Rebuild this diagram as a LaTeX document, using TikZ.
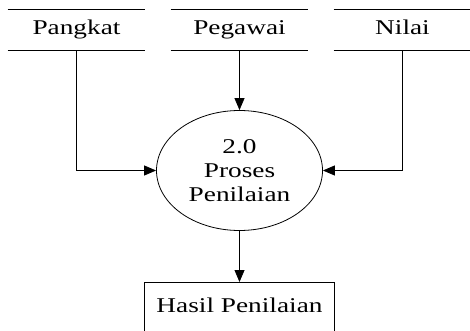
\documentclass[tikz,border=0pt]{standalone}
\usepackage{fontspec}
\setmainfont[FakeStretch=1.3]{Liberation Serif}
\usetikzlibrary{shapes.geometric,arrows.meta}

\tikzset{
  store/.style={minimum width=137pt, minimum height=40pt, inner sep=0pt, text height=14pt, text depth=4pt},
  proc/.style={draw, ellipse, minimum width=166pt, minimum height=120pt, inner sep=0pt, align=center},
  entity/.style={draw, minimum width=190pt, inner xsep=0pt, inner ysep=15pt, text height=15pt, text depth=30pt},
  arr/.style={-{Triangle[length=12pt,width=10pt]}}
}

\begin{document}
\begin{tikzpicture}[x=1pt, y=-1pt, line width=0.8pt, font=\fontsize{21}{24}\selectfont]
				% bounding box
				\useasboundingbox (0,0) rectangle (470,331);
				
				% data stores
				\node[store] (pangkat) at (76.5, 30) {Pangkat};
				\node[store] (pegawai) at (239.5, 30) {Pegawai};
				\node[store] (nilai)   at (402.5, 30) {Nilai};
				\foreach \s in {pangkat, pegawai, nilai}{
					\draw (\s.north west) -- (\s.north east);
					\draw (\s.south west) -- (\s.south east);
				}
				
				% proses en hasil
				\node[proc] (proses) at (239.5, 170.5) {2.0\\Proses\\Penilaian};
				\node[entity, anchor=north] (hasil) at (239.5, 282) {Hasil Penilaian};
				
				% pijlen
				\draw[arr] (pangkat.south) |- (proses.west);
				\draw[arr] (pegawai.south) -- (proses.north);
				\draw[arr] (nilai.south)   |- (proses.east);
				\draw[arr] (proses.south)  -- (hasil.north);
\end{tikzpicture}
\end{document}
